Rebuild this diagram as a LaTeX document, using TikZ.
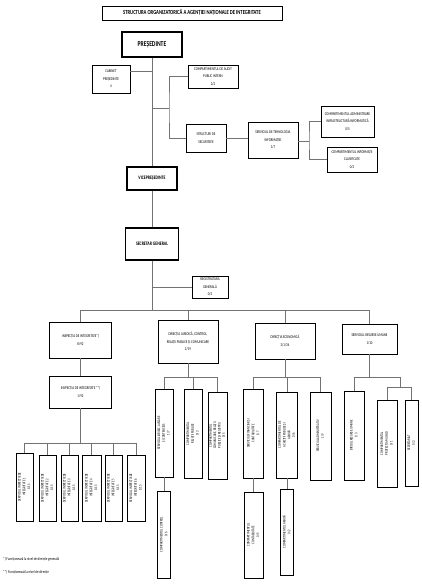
\documentclass[tikz,border=0pt]{standalone}
\usepackage{fontspec}
\newfontfamily\cond[FakeStretch=0.75]{Carlito}
\usetikzlibrary{shadows}
\tikzset{
  box/.style={draw=black, line width=0.8pt, fill=white, align=center, inner sep=0pt,
    drop shadow={shadow xshift=0.8pt, shadow yshift=-0.8pt, fill=black, opacity=0.85},
    font=\cond\fontsize{4.2}{7.5}\selectfont},
  bigbox/.style={box, line width=1.2pt},
  vbox/.style={box, font=\cond\fontsize{3.9}{4.7}\selectfont},
  conn/.style={draw=black!55, line width=0.5pt},
  note/.style={anchor=west, inner sep=0pt, font=\cond\fontsize{4.2}{5}\selectfont}
}
\newcommand{\vt}[1]{\rotatebox{90}{\begin{tabular}{@{}c@{}}#1\end{tabular}}}
\begin{document}
\begin{tikzpicture}[x=1pt,y=-1pt]
\useasboundingbox[fill=white] (0,0) rectangle (421,588);
% top level
\node[box, minimum width=180pt, minimum height=14pt, font=\cond\bfseries\fontsize{6.2}{7}\selectfont] (title) at (192,13) {STRUCTURA ORGANIZATORICĂ A AGENȚIEI NAȚIONALE DE INTEGRITATE};
\node[bigbox, minimum width=60pt, minimum height=25pt, font=\cond\bfseries\fontsize{7.5}{8}\selectfont] (pres) at (152,44.5) {PREȘEDINTE};
\node[box, minimum width=38pt, minimum height=28pt] (cab) at (111,79) {CABINET\\PREȘEDINTE\\4};
\node[box, minimum width=50pt, minimum height=23pt] (audit) at (213,76.5) {COMPARTIMENTUL DE AUDIT\\PUBLIC INTERN\\2/2};
\node[box, minimum width=40pt, minimum height=28pt] (struct) at (206,138) {STRUCTURI DE\\SECURITATE};
\node[box, minimum width=50pt, minimum height=36pt] (sti) at (273,140) {SERVICIUL DE TEHNOLOGIA\\INFORMAȚIEI\\1/7};
\node[box, minimum width=53pt, minimum height=31pt] (infra) at (347.5,121.5) {COMPARTIMENTUL ADMINISTRARE\\INFRASTRUCTURĂ INFORMATICĂ\\0/5};
\node[box, minimum width=50pt, minimum height=25pt] (clas) at (352,159.5) {COMPARTIMENTUL INFORMAȚII\\CLASIFICATE\\0/2};
\node[bigbox, minimum width=50pt, minimum height=23pt, font=\cond\bfseries\fontsize{5.2}{6}\selectfont] (vice) at (152,178.5) {VICEPREȘEDINTE};
\node[bigbox, minimum width=53pt, minimum height=32pt, font=\cond\bfseries\fontsize{5.2}{6}\selectfont] (sg) at (152,244) {SECRETAR GENERAL};
\node[box, minimum width=36pt, minimum height=22pt] (reg) at (210,287) {REGISTRATURA\\GENERALĂ\\0/3};
% second level
\node[box, minimum width=62pt, minimum height=36pt] (insp1) at (80.5,340) {INSPECȚIA DE INTEGRITATE*)\\8/92};
\node[box, minimum width=60pt, minimum height=43pt] (jur) at (188,341.5) {DIRECȚIA JURIDICĂ, CONTROL,\\RELAȚII PUBLICE ȘI COMUNICARE\\2/19};
\node[box, minimum width=60pt, minimum height=36pt] (eco) at (285,341) {DIRECȚIA ECONOMICĂ\\2/1/34};
\node[box, minimum width=55pt, minimum height=30pt] (hr) at (369.5,339) {SERVICIUL RESURSE UMANE\\1/10};
\node[box, minimum width=62pt, minimum height=32pt] (insp2) at (80.5,392) {INSPECȚIA DE INTEGRITATE **)\\1/92};
% inspection services
\node[vbox, minimum width=17pt, minimum height=68pt] (s1) at (24.5,487) {\vt{SERVICIUL INSPECȚIE DE\\INTEGRITATE 1\\1/15}};
\node[vbox, minimum width=17pt, minimum height=66pt] (s2) at (47.5,488) {\vt{SERVICIUL INSPECȚIE DE\\INTEGRITATE 2\\1/15}};
\node[vbox, minimum width=17pt, minimum height=66pt] (s3) at (69.5,488) {\vt{SERVICIUL INSPECȚIE DE\\INTEGRITATE 3\\1/15}};
\node[vbox, minimum width=19pt, minimum height=66pt] (s4) at (91.5,488) {\vt{SERVICIUL INSPECȚIE DE\\INTEGRITATE 4\\1/15}};
\node[vbox, minimum width=17pt, minimum height=66pt] (s5) at (113.5,488) {\vt{SERVICIUL INSPECȚIE DE\\INTEGRITATE 5\\1/15}};
\node[vbox, minimum width=18pt, minimum height=66pt] (s6) at (136,488) {\vt{SERVICIUL INSPECȚIE DE\\INTEGRITATE 6\\1/15}};
% juridic
\node[vbox, minimum width=18pt, minimum height=88pt] (ja) at (164,433) {\vt{SERVICIUL JURIDIC, AVIZARE\\ȘI CONTENCIOS\\1/7}};
\node[vbox, minimum width=18pt, minimum height=89pt] (jb) at (193,433.5) {\vt{COMPARTIMENTUL\\RELAȚII PUBLICE\\0/3}};
\node[vbox, minimum width=19pt, minimum height=87pt, font=\cond\fontsize{3.9}{4.3}\selectfont] (jc) at (217.5,435.5) {\vt{COMPARTIMENTUL\\COMUNICARE, RELAȚII\\PUBLICE ȘI REGISTRU\\0/5}};
\node[vbox, minimum width=13pt, minimum height=87pt] (jac) at (164,534.5) {\vt{COMPARTIMENTUL CONTROL\\0/6}};
% economic
\node[vbox, minimum width=20pt, minimum height=89pt] (e1) at (253.5,433.5) {\vt{SERVICIUL FINANCIAR ȘI\\CONTABILITATE\\1/7}};
\node[vbox, minimum width=21pt, minimum height=86pt] (e2) at (287,435) {\vt{COMPARTIMENTUL DE\\ACHIZIȚII PUBLICE ȘI\\ARHIVĂ\\0/6}};
\node[vbox, minimum width=21pt, minimum height=88pt] (e3) at (320.5,436) {\vt{SERVICIUL ADMINISTRATIV\\1/9}};
\node[vbox, minimum width=19pt, minimum height=86pt] (e1c) at (253.5,535) {\vt{COMPARTIMENTUL\\CONTABILITATE\\0/5}};
\node[vbox, minimum width=13pt, minimum height=86pt] (e2c) at (287,532) {\vt{COMPARTIMENTUL ARHIVĂ\\0/2}};
% resurse umane
\node[vbox, minimum width=20pt, minimum height=89pt] (r1) at (354,435.5) {\vt{BIROUL RESURSE UMANE\\1/3}};
\node[vbox, minimum width=20pt, minimum height=87pt] (r2) at (387,443.5) {\vt{COMPARTIMENTUL\\PROTECȚIA MUNCII\\0/1}};
\node[vbox, minimum width=13pt, minimum height=86pt] (r3) at (411.5,443) {\vt{SECRETARIAT\\0/3}};
% notes
\node[note] (n1) at (3,559) {*) Funcționează la nivel de direcție generală};
\node[note] (n2) at (3,572) {**) Funcționează la nivel de direcție};
% junction coordinates
\coordinate (jcab) at (152,71);
\coordinate (j1) at (152,108);
\coordinate (j1r) at (169,108);
\coordinate (j2) at (309,141);
\coordinate (jreg) at (152,287);
\coordinate (busc) at (152,310);
\coordinate (b2) at (80.5,443);
\coordinate (bj) at (188,377);
\coordinate (be) at (285,377);
\coordinate (bh) at (369.5,377);
\coordinate (bhr) at (400,377);
\coordinate (bhr2) at (400,387);
% connectors
\draw[conn] (pres.south) -- (vice.north);
\draw[conn] (vice.south) -- (sg.north);
\draw[conn] (sg.south) -- (busc);
\draw[conn] (cab.east |- jcab) -- (jcab);
\draw[conn] (j1) -- (j1r);
\draw[conn] (audit.west) -| (j1r) |- (struct.west);
\draw[conn] (struct.east) -- (struct.east -| sti.west);
\draw[conn] (sti.east |- j2) -- (j2);
\draw[conn] (infra.west) -| (j2) |- (clas.west);
\draw[conn] (jreg) -- (reg.west |- jreg);
\draw[conn] (insp1.north) -- (insp1.north |- busc) -- (hr.north |- busc) -- (hr.north);
\draw[conn] (jur.north) -- (jur.north |- busc);
\draw[conn] (eco.north) -- (eco.north |- busc);
\draw[conn] (insp1.south) -- (insp2.north);
\draw[conn] (insp2.south) -- (b2);
\draw[conn] (s1.north) -- (s1.north |- b2) -- (s6.north |- b2) -- (s6.north);
\foreach \s in {s2,s3,s4,s5} \draw[conn] (\s.north) -- (\s.north |- b2);
\draw[conn] (jur.south) -- (bj);
\draw[conn] (ja.north) -- (ja.north |- bj) -- (jc.north |- bj) -- (jc.north);
\draw[conn] (jb.north) -- (jb.north |- bj);
\draw[conn] (ja.south) -- (jac.north);
\draw[conn] (eco.south) -- (be);
\draw[conn] (e1.north) -- (e1.north |- be) -- (e3.north |- be) -- (e3.north);
\draw[conn] (e2.north) -- (e2.north |- be);
\draw[conn] (e1.south) -- (e1c.north);
\draw[conn] (e2.south) -- (e2c.north);
\draw[conn] (hr.south) -- (bh);
\draw[conn] (r1.north) -- (r1.north |- bh) -- (bhr) -- (bhr2);
\draw[conn] (r2.north) -- (r2.north |- bhr2) -- (r3.north |- bhr2) -- (r3.north);
\end{tikzpicture}
\end{document}
